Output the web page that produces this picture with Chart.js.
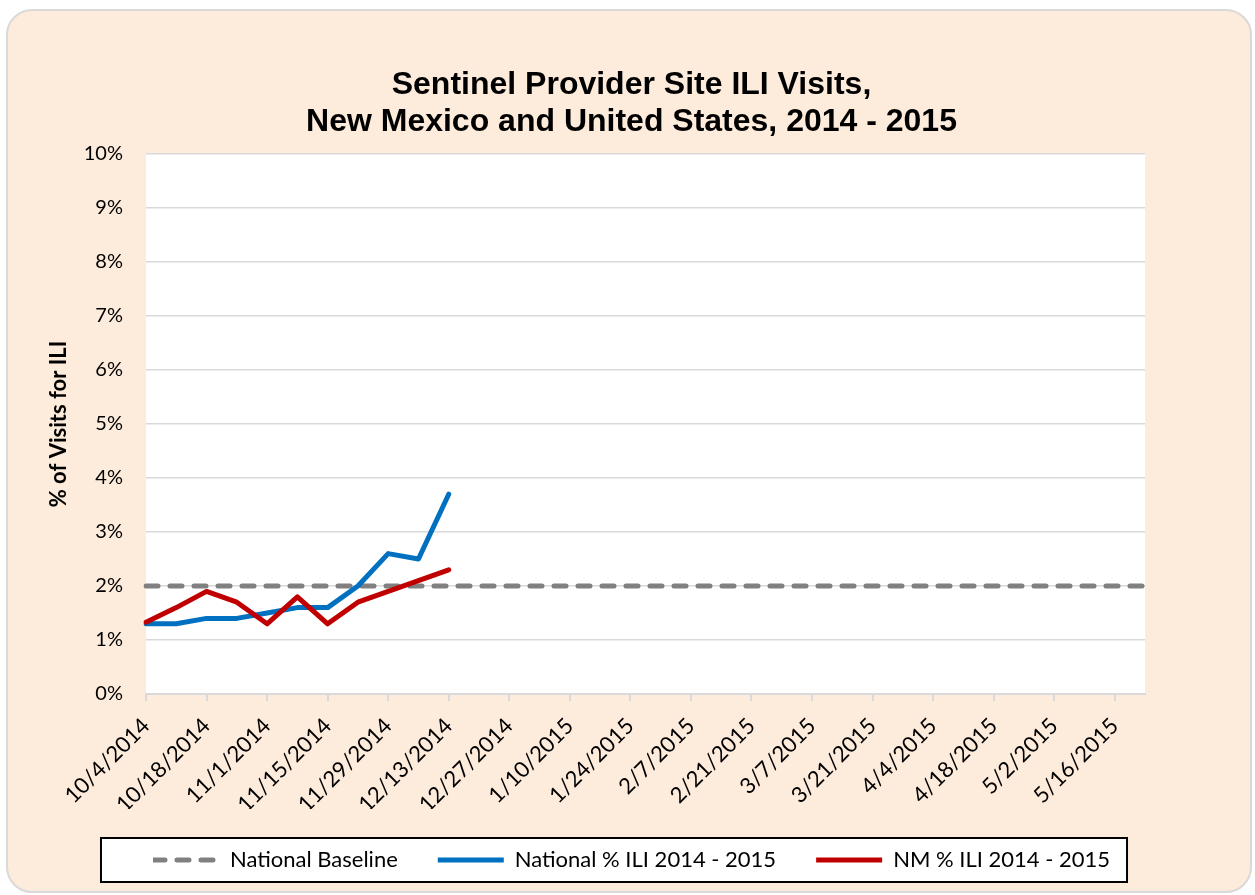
<!DOCTYPE html>
<html>
<head>
<meta charset="utf-8">
<title>Sentinel Provider Site ILI Visits</title>
<script src="https://cdn.jsdelivr.net/npm/chart.js@4.4.0/dist/chart.umd.min.js"></script>
<style>
  html, body { margin: 0; padding: 0; background: #fff; }
  #card {
    position: absolute; left: 6px; top: 9px;
    width: 1242px; height: 880px;
    background: #fdebdc;
    border: 2px solid #d9d9d9;
    border-radius: 26px;
  }
  #chart { position: absolute; left: 0; top: 0; }
</style>
</head>
<body>
<div id="card"></div>
<canvas id="chart" width="1255" height="895"></canvas>
<script>
// ---- data (weekly, week ending) ----
const weeks = [
  "10/4/2014", "10/11/2014", "10/18/2014", "10/25/2014", "11/1/2014", "11/8/2014",
  "11/15/2014", "11/22/2014", "11/29/2014", "12/6/2014", "12/13/2014", "12/20/2014",
  "12/27/2014", "1/3/2015", "1/10/2015", "1/17/2015", "1/24/2015", "1/31/2015",
  "2/7/2015", "2/14/2015", "2/21/2015", "2/28/2015", "3/7/2015", "3/14/2015",
  "3/21/2015", "3/28/2015", "4/4/2015", "4/11/2015", "4/18/2015", "4/25/2015",
  "5/2/2015", "5/9/2015", "5/16/2015", "5/23/2015"
];

// % of visits for ILI
const nationalBaseline = [
  2, 2, 2, 2, 2, 2, 2, 2, 2, 2, 2, 2, 2, 2, 2, 2, 2,
  2, 2, 2, 2, 2, 2, 2, 2, 2, 2, 2, 2, 2, 2, 2, 2, 2
];
const nationalIli = [1.3, 1.3, 1.4, 1.4, 1.5, 1.6, 1.6, 2.0, 2.6, 2.5, 3.7];
const nmIli = [1.33, 1.6, 1.9, 1.7, 1.3, 1.8, 1.3, 1.7, 1.9, 2.1, 2.3];

const seriesNames = ["National Baseline", "National % ILI 2014 - 2015", "NM % ILI 2014 - 2015"];

const yMin = 0;
const yMax = 10;
const yStep = 1;

const labelFont = "Lato, 'Open Sans', sans-serif";

// white plot area + framed legend box
const backdrop = {
  id: "backdrop",
  beforeDraw(c) {
    const { ctx, chartArea: a, legend } = c;
    ctx.save();
    ctx.fillStyle = "#ffffff";
    ctx.fillRect(a.left, a.top, a.right - a.left, a.bottom - a.top);

    const hb = legend.legendHitBoxes;
    if (hb && hb.length) {
      const first = hb[0], last = hb[hb.length - 1];
      const x0 = first.left - 52;
      const x1 = last.left + last.width + 17;
      const yc = first.top + first.height / 2;
      ctx.fillStyle = "#ffffff";
      ctx.fillRect(x0, yc - 22, x1 - x0, 44);
      ctx.strokeStyle = "#000000";
      ctx.lineWidth = 2;
      ctx.strokeRect(x0, yc - 22, x1 - x0, 44);
    }
    ctx.restore();
  }
};

const chart = new Chart(document.getElementById("chart"), {
  type: "line",
  data: {
    labels: weeks,
    datasets: [
      {
        label: seriesNames[0],
        data: nationalBaseline,
        borderColor: "#808080",
        borderWidth: 5,
        borderDash: [12, 12],
        borderCapStyle: "round",
        order: 3
      },
      {
        label: seriesNames[1],
        data: nationalIli,
        borderColor: "#0070c0",
        borderWidth: 5,
        borderJoinStyle: "round",
        borderCapStyle: "round",
        order: 2
      },
      {
        label: seriesNames[2],
        data: nmIli,
        borderColor: "#c00000",
        borderWidth: 5,
        borderJoinStyle: "round",
        borderCapStyle: "round",
        order: 1
      }
    ]
  },
  options: {
    responsive: false,
    animation: false,
    devicePixelRatio: 1,
    layout: { padding: { left: 14, right: 6, top: 0, bottom: 14 } },
    elements: {
      point: { radius: 0, hoverRadius: 0 },
      line: { tension: 0, fill: false }
    },
    plugins: {
      title: {
        display: true,
        text: ["Sentinel Provider Site ILI Visits,", "New Mexico and United States, 2014 - 2015"],
        color: "#000",
        font: { family: "'Liberation Sans', Arial, sans-serif", size: 32, weight: "bold", lineHeight: 37 / 32 },
        padding: { top: 67, bottom: 13 }
      },
      legend: {
        position: "bottom",
        labels: {
          color: "#000",
          font: { family: labelFont, size: 22 },
          // 66 = 6 + 12*5 keeps the dash pattern aligned on the flat rect's return stroke
          boxWidth: 66,
          boxHeight: 0,
          padding: 40,
          generateLabels(c) {
            return c.data.datasets.map((ds, i) => ({
              text: ds.label,
              fillStyle: "rgba(0,0,0,0)",
              strokeStyle: ds.borderColor,
              lineWidth: 5,
              lineDash: ds.borderDash || [],
              lineCap: "round",
              fontColor: "#000",
              datasetIndex: i,
              hidden: false
            }));
          }
        }
      },
      tooltip: { enabled: false }
    },
    scales: {
      x: {
        type: "category",
        offset: false,
        afterFit(s) { s.height = 115; },
        border: { display: true, color: "#d9d9d9", width: 2 },
        grid: {
          display: true,
          drawOnChartArea: false,
          drawTicks: true,
          tickLength: 7,
          color: "#d9d9d9",
          lineWidth: 2
        },
        ticks: {
          autoSkip: false,
          maxRotation: 45,
          minRotation: 45,
          padding: 12,
          color: "#000",
          font: { family: labelFont, size: 22 },
          callback(v, i) { return i % 2 === 0 ? this.getLabelForValue(v) : null; }
        }
      },
      y: {
        min: yMin,
        max: yMax,
        afterFit(s) { s.width = 132; },
        border: { display: false },
        grid: { color: "#d9d9d9", lineWidth: 1.5, drawTicks: false },
        ticks: {
          stepSize: yStep,
          padding: 23,
          color: "#000",
          font: { family: labelFont, size: 20 },
          callback: v => v + "%"
        },
        title: {
          display: true,
          text: "% of Visits for ILI",
          color: "#000",
          font: { family: labelFont, size: 22, weight: "bold" },
          padding: { top: 32, bottom: 4 }
        }
      },
      yRight: {
        type: "linear",
        position: "right",
        afterFit(s) { s.width = 104; },
        border: { display: false },
        grid: { display: false, drawTicks: false },
        ticks: { display: false }
      }
    }
  },
  plugins: [backdrop]
});
</script>
</body>
</html>
